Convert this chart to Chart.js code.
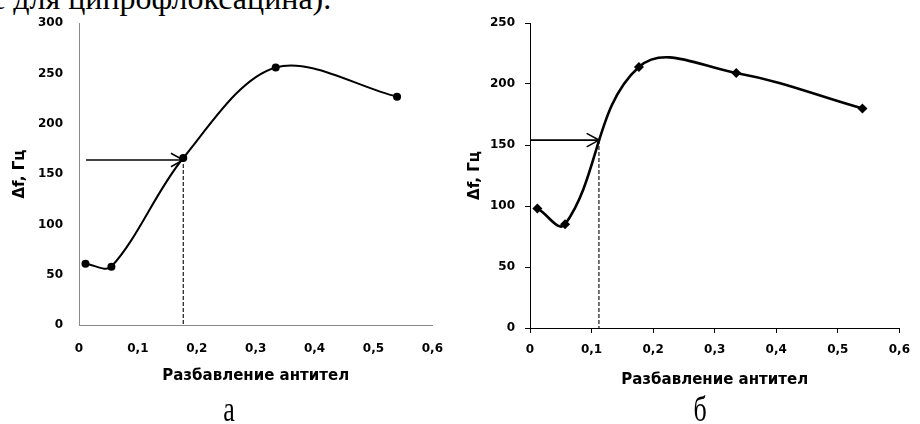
<!DOCTYPE html>
<html>
<head>
<meta charset="utf-8">
<script src="https://cdn.jsdelivr.net/npm/chart.js@4/dist/chart.umd.min.js"></script>
<style>
    body { margin: 0; width: 920px; height: 424px; position: relative; overflow: hidden; background: #fff; }
    .cadre { position: absolute; top: 0; width: 460px; height: 424px; }
    .serif { position: absolute; font-family: "Liberation Serif", "Times New Roman", serif; color: #000; white-space: nowrap; line-height: 1; }
    .lettre { width: 40px; text-align: center; font-size: 26px; transform: scaleY(1.35); transform-origin: 50% 21.8px; }
</style>
</head>
<body>
<div class="serif" style="left:-9px; top:-18px; font-size:32px;">с для ципрофлоксацина).</div>
<div class="cadre" style="left:0"><canvas id="graphique-a"></canvas></div>
<div class="cadre" style="left:460px"><canvas id="graphique-b"></canvas></div>
<div class="serif lettre" style="left:209px; top:400px;">а</div>
<div class="serif lettre" style="left:680px; top:400px;">б</div>

<script>
// axes
const xTickVals = [0, 0.1, 0.2, 0.3, 0.4, 0.5, 0.6];
const xTickLabels = ["0", "0,1", "0,2", "0,3", "0,4", "0,5", "0,6"];
const yTicksA = [0, 50, 100, 150, 200, 250, 300];
const yTicksB = [0, 50, 100, 150, 200, 250];

// courbe а
const razbA = [0.011, 0.055, 0.177, 0.334, 0.54];
const dfA = [61, 58, 166, 256, 227];
// courbe б
const razbB = [0.012, 0.057, 0.177, 0.335, 0.54];
const dfB = [98, 85, 214, 209, 180];

// lecture sur la courbe (flèche horizontale puis pointillés)
const flecheA = [0.012, 0.177];
const niveauA = 164;
const flecheB = [0, 0.112];
const niveauB = 154;

const policeTicks = { family: "DejaVu Sans", size: 12, weight: "bold" };
const policeTitre = { family: "DejaVu Sans", size: 15, weight: "bold" };

// pointe de flèche ouverte au bout des jeux marqués "fleche"
const pointeFleche = {
    id: "pointeFleche",
    afterDatasetsDraw(chart) {
        const ctx = chart.ctx;
        chart.data.datasets.forEach((ds, i) => {
            if (!ds.fleche) return;
            const pts = chart.getDatasetMeta(i).data;
            const a = pts[pts.length - 2];
            const b = pts[pts.length - 1];
            const ang = Math.atan2(b.y - a.y, b.x - a.x);
            ctx.save();
            ctx.strokeStyle = "#000";
            ctx.lineWidth = 1.6;
            ctx.beginPath();
            ctx.moveTo(b.x - 14 * Math.cos(ang - 0.5), b.y - 14 * Math.sin(ang - 0.5));
            ctx.lineTo(b.x, b.y);
            ctx.lineTo(b.x - 14 * Math.cos(ang + 0.5), b.y - 14 * Math.sin(ang + 0.5));
            ctx.stroke();
            ctx.restore();
        });
    }
};

function creerGraphique(id, xs, ys, fleche, niveau, yTicks, opt) {
    const courbe = {
        data: xs.map((x, i) => ({ x: x, y: ys[i] })),
        showLine: true,
        tension: opt.tension,
        borderColor: "#000",
        backgroundColor: "#000",
        borderWidth: opt.epaisseur,
        pointStyle: opt.marqueur,
        pointRadius: opt.rayon,
        pointBorderWidth: 0
    };
    const ligneFleche = {
        data: [{ x: fleche[0], y: niveau }, { x: fleche[1], y: niveau }],
        showLine: true,
        fleche: true,
        borderColor: "#000",
        borderWidth: 1.6,
        pointRadius: 0
    };
    const pointilles = {
        data: [{ x: fleche[1], y: opt.departPointilles }, { x: fleche[1], y: 0 }],
        showLine: true,
        borderColor: "#000",
        borderWidth: 1.1,
        borderDash: [4, 2],
        pointRadius: 0
    };

    const grille = opt.ticks
        ? { display: true, drawOnChartArea: false, drawTicks: true, tickLength: 5, tickColor: opt.axe, color: opt.axe }
        : { display: false, drawTicks: false };

    const config = {
        type: "scatter",
        data: { datasets: [pointilles, ligneFleche, courbe] },
        plugins: [pointeFleche],
        options: {
            responsive: true,
            maintainAspectRatio: false,
            animation: false,
            layout: { padding: { top: opt.haut, right: opt.droite, left: 0, bottom: 0 } },
            plugins: { legend: { display: false }, tooltip: { enabled: false } },
            scales: {
                x: {
                    type: "linear",
                    min: 0,
                    max: 0.6,
                    afterBuildTicks: s => { s.ticks = xTickVals.map(v => ({ value: v })); },
                    afterFit: s => { s.height = opt.hautX; },
                    ticks: { callback: (v, i) => xTickLabels[i], padding: opt.padX, font: policeTicks, color: "#000", autoSkip: false, maxRotation: 0 },
                    grid: grille,
                    border: { display: true, color: opt.axe, width: 1 },
                    title: { display: true, text: "Разбавление антител", font: policeTitre, color: "#000", padding: { top: 0, bottom: opt.titreX } }
                },
                y: {
                    type: "linear",
                    min: 0,
                    max: yTicks[yTicks.length - 1],
                    afterBuildTicks: s => { s.ticks = yTicks.map(v => ({ value: v })); },
                    afterFit: s => { s.width = opt.largY; },
                    ticks: { padding: opt.padY, font: policeTicks, color: "#000" },
                    grid: grille,
                    border: { display: true, color: opt.axe, width: 1 },
                    title: { display: true, text: "Δf, Гц", font: policeTitre, color: "#000", padding: { top: opt.titreY, bottom: 0 } }
                }
            }
        }
    };
    return new Chart(document.getElementById(id).getContext("2d"), config);
}

creerGraphique("graphique-a", razbA, dfA, flecheA, niveauA, yTicksA, {
    tension: 0.33, epaisseur: 2, marqueur: "circle", rayon: 4, axe: "#8a8a8a", ticks: false,
    departPointilles: 166, haut: 22, droite: 18, hautX: 99, largY: 79,
    padX: 17, padY: 16, titreX: 39, titreY: 11
});

creerGraphique("graphique-b", razbB, dfB, flecheB, niveauB, yTicksB, {
    tension: 0.4, epaisseur: 2.6, marqueur: "rectRot", rayon: 5, axe: "#000", ticks: true,
    departPointilles: niveauB, haut: 23, droite: 12, hautX: 96, largY: 70,
    padX: 10, padY: 10, titreX: 35, titreY: 6
});
</script>
</body>
</html>
